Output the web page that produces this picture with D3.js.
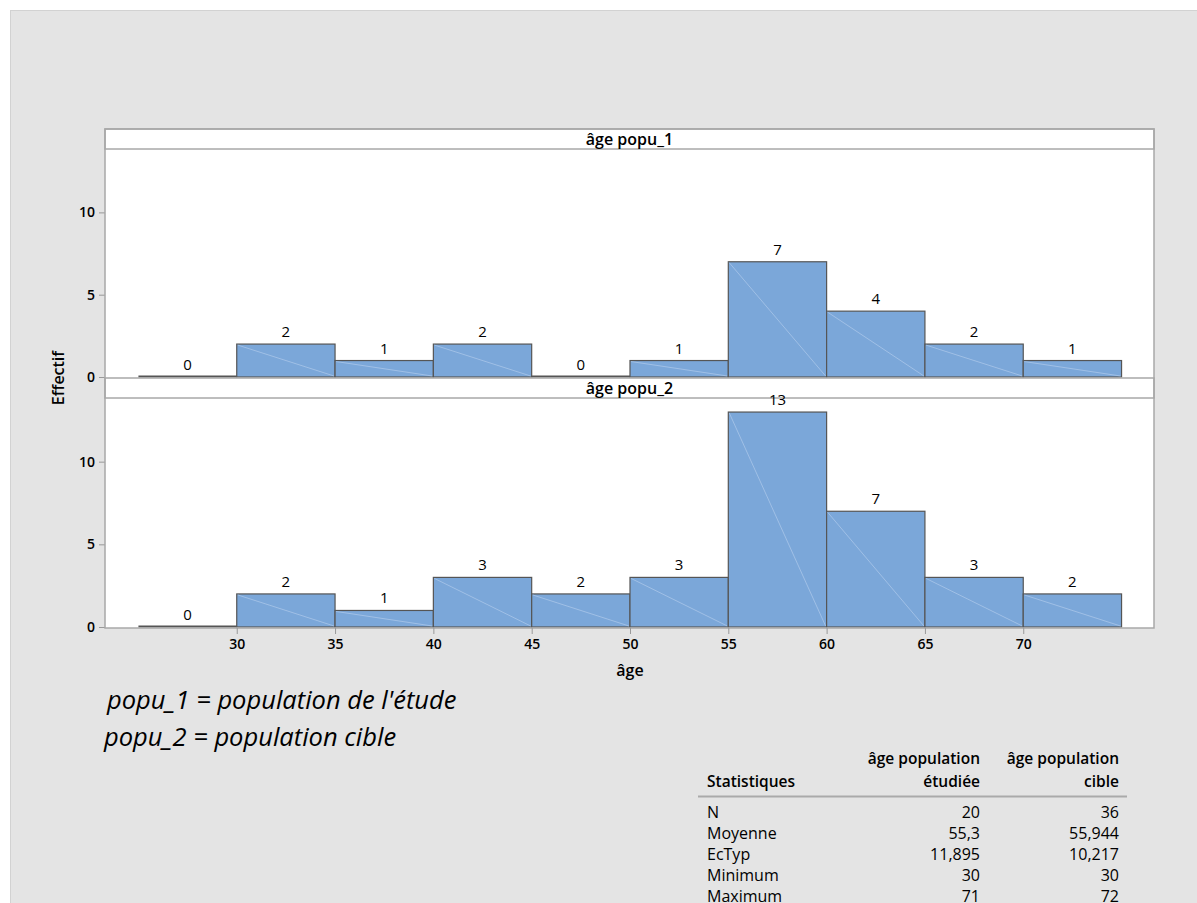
<!DOCTYPE html>
<html><head><meta charset="utf-8">
<script src="https://cdn.jsdelivr.net/npm/d3@7"></script>
<style>
html,body{margin:0;padding:0;background:#fff;}
svg{display:block;}
text{font-family:"Open Sans","Noto Sans",sans-serif;fill:#000;}
</style></head><body>
<svg id="c" width="1197" height="903"></svg>
<script>
const binStarts = [25,30,35,40,45,50,55,60,65,70];
const binWidth = 5;
const popu1 = [0,2,1,2,0,1,7,4,2,1];
const popu2 = [0,2,1,3,2,3,13,7,3,2];
const panelTitles = ["âge popu_1","âge popu_2"];
const xTicks = [30,35,40,45,50,55,60,65,70];
const yTicks = [0,5,10];
const notes = ["popu_1 = population de l'étude","popu_2 = population cible"];
const statNames = ["N","Moyenne","EcTyp","Minimum","Maximum"];
const statEtude = ["20","55,3","11,895","30","71"];
const statCible = ["36","55,944","10,217","30","72"];

const svg = d3.select("#c");
svg.append("rect").attr("x",10.5).attr("y",10.5).attr("width",1200).attr("height",900)
  .attr("fill","#e4e4e4").attr("stroke","#d2d2d2");

const L=105, R=1154;
const x = d3.scaleLinear().domain([23.3,76.65]).range([L,R]);
const panels = [
  {top:129, hdr:20, bottom:378, data:popu1},
  {top:378, hdr:20, bottom:628, data:popu2}
];
const labelLayer = [];
panels.forEach((p,i)=>{
  const y = d3.scaleLinear().domain([0,13.85]).range([p.bottom-1, p.top+p.hdr]);
  const g = svg.append("g");
  g.append("rect").attr("x",L).attr("y",p.top).attr("width",R-L).attr("height",p.bottom-p.top)
    .attr("fill","#fff");
  const data = binStarts.map((s,j)=>({s, v:p.data[j]}));
  data.forEach(d=>{
    const x0=x(d.s), x1=x(d.s+binWidth), y0=y(0), y1=y(d.v);
    if(d.v===0){
      g.append("line").attr("x1",x0).attr("x2",x1).attr("y1",y0-0.5).attr("y2",y0-0.5)
        .attr("stroke","#555").attr("stroke-width",2);
    } else {
      g.append("rect").attr("x",x0).attr("y",y1).attr("width",x1-x0).attr("height",y0-y1)
        .attr("fill","#7ba7d9").attr("stroke","#555").attr("stroke-width",1.2);
      g.append("line").attr("x1",x0+1).attr("y1",y1+1).attr("x2",x1-1).attr("y2",y0-1)
        .attr("stroke","#b8d0ee").attr("stroke-width",0.6);
    }
    labelLayer.push({x:(x0+x1)/2, y:y1-7, t:d.v});
  });
  const ya = d3.axisLeft(y).tickValues(yTicks).tickSize(6).tickPadding(4);
  const ag = g.append("g").attr("transform",`translate(${L},0)`).call(ya);
  ag.select(".domain").remove();
  ag.selectAll("line").attr("stroke","#999");
  ag.selectAll("text").attr("font-size",14).attr("font-weight",600).attr("font-family","'Open Sans',sans-serif");
  g.append("rect").attr("x",L).attr("y",p.top).attr("width",R-L).attr("height",p.hdr)
    .attr("fill","#fff").attr("stroke","#a8a8a8").attr("stroke-width",1.5);
  g.append("text").attr("x",(L+R)/2).attr("y",p.top+p.hdr/2+5.5).attr("text-anchor","middle")
    .attr("font-size",16).attr("font-weight",600).text(panelTitles[i]);
});
svg.append("rect").attr("x",L).attr("y",129).attr("width",R-L).attr("height",628-129)
  .attr("fill","none").attr("stroke","#a8a8a8").attr("stroke-width",1.5);
svg.append("g").selectAll("text").data(labelLayer).join("text")
  .attr("x",d=>d.x).attr("y",d=>d.y).attr("text-anchor","middle").attr("font-size",15).text(d=>d.t);

const xa = d3.axisBottom(x).tickValues(xTicks).tickSize(6).tickPadding(5);
const xg = svg.append("g").attr("transform","translate(0,628)").call(xa);
xg.select(".domain").remove();
xg.selectAll("line").attr("stroke","#999");
xg.selectAll("text").attr("font-size",14).attr("font-weight",600).attr("font-family","'Open Sans',sans-serif");

svg.append("text").attr("x",630).attr("y",676).attr("text-anchor","middle")
  .attr("font-size",16).attr("font-weight",600).text("âge");
svg.append("text").attr("transform","translate(64,378) rotate(-90)").attr("text-anchor","middle")
  .attr("font-size",16).attr("font-weight",600).text("Effectif");

svg.append("text").attr("x",107).attr("y",709).attr("font-size",25.5).attr("font-style","italic").text(notes[0]);
svg.append("text").attr("x",104).attr("y",746).attr("font-size",25.5).attr("font-style","italic").text(notes[1]);

const tg = svg.append("g");
tg.append("text").attr("x",707).attr("y",787).attr("font-weight",600).attr("font-size",15.5).text("Statistiques");
[["âge population","étudiée",980],["âge population","cible",1119]].forEach(c=>{
  tg.append("text").attr("x",c[2]).attr("y",764).attr("text-anchor","end").attr("font-weight",600).attr("font-size",15.5).text(c[0]);
  tg.append("text").attr("x",c[2]).attr("y",787).attr("text-anchor","end").attr("font-weight",600).attr("font-size",15.5).text(c[1]);
});
tg.append("line").attr("x1",698).attr("x2",1127).attr("y1",796.5).attr("y2",796.5).attr("stroke","#aaa").attr("stroke-width",2);
const rowY = d3.scaleLinear().domain([0,1]).range([818,839]);
statNames.forEach((n,k)=>{
  tg.append("text").attr("x",707).attr("y",rowY(k)).attr("font-size",16).text(n);
  tg.append("text").attr("x",980).attr("y",rowY(k)).attr("text-anchor","end").attr("font-size",16).text(statEtude[k]);
  tg.append("text").attr("x",1119).attr("y",rowY(k)).attr("text-anchor","end").attr("font-size",16).text(statCible[k]);
});
</script></body></html>
